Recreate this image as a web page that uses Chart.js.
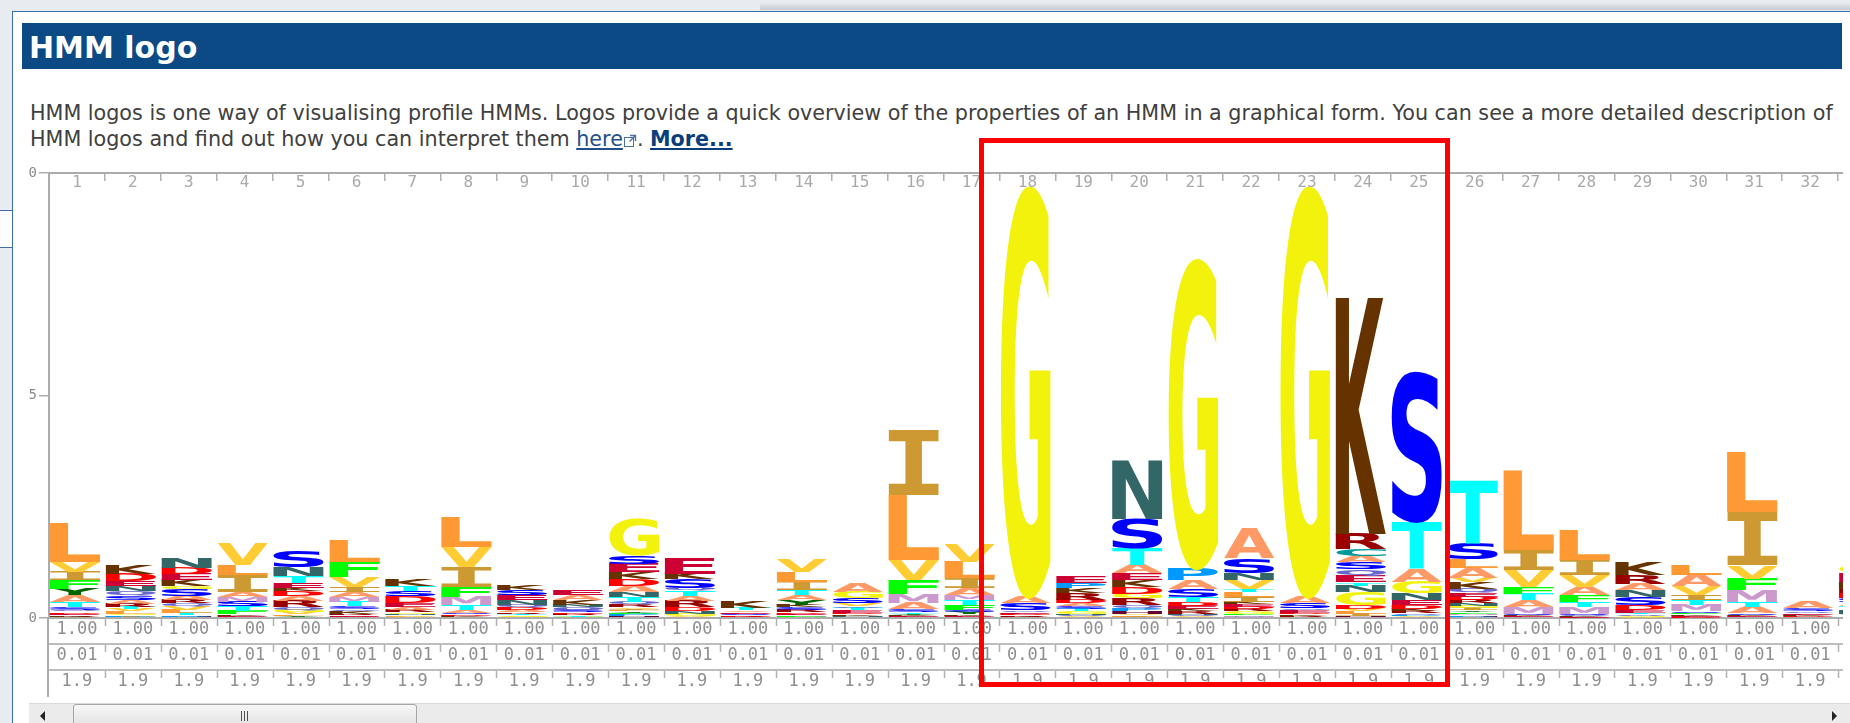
<!DOCTYPE html>
<html>
<head>
<meta charset="utf-8">
<title>HMM logo</title>
<script src="https://cdn.jsdelivr.net/npm/chart.js@4.4.1/dist/chart.umd.min.js"></script>
<style>
  html, body { margin: 0; padding: 0; }
  body {
    width: 1850px; height: 723px; overflow: hidden; position: relative;
    background: #e8ebf0; font-family: "DejaVu Sans", sans-serif;
  }
  .abs { position: absolute; }
  #topband { left: 760px; top: 3px; width: 1090px; height: 7px;
    background: linear-gradient(#e6e9ed, #c6cbd3); }
  #panel { left: 12px; top: 11px; width: 1838px; height: 712px; background: #fff;
    border-left: 1px solid #3d6fa6; border-top: 1px solid #3d6fa6; box-sizing: border-box; }
  #notch { left: 0; top: 210px; width: 12px; height: 38px; background: #fdfdfd;
    border-top: 1px solid #3d6fa6; border-bottom: 1px solid #3d6fa6; box-sizing: border-box; }
  #header { left: 22px; top: 23px; width: 1820px; height: 46px; background: #0b4a85; }
  #header h2 { position: absolute; left: 7px; top: 7px; margin: 0; color: #fff;
    font: bold 30px/35px "DejaVu Sans", sans-serif; white-space: nowrap; }
  #intro { left: 30px; top: 100px; color: #404040; font-size: 19.4px; line-height: 26px;
    white-space: nowrap; }
  #intro a { color: #23508a; text-decoration: underline; }
  #intro a.more { color: #0b3f7c; font-weight: bold; }
  #intro svg { vertical-align: -1px; margin-left: 1px; }
  #viewport { left: 28px; top: 160px; width: 1815px; height: 543px; overflow: hidden; background: #fff; }
  #scrollbar { left: 29px; top: 703px; width: 1821px; height: 20px; background: #ebebeb;
    border-top: 1px solid #d9d9d9; box-sizing: border-box; }
  #thumb { left: 73px; top: 704px; width: 344px; height: 24px; box-sizing: border-box;
    border: 1px solid #a6a6a6; border-radius: 3px;
    background: linear-gradient(#f7f7f7, #e1e1e1); }
  .grip { top: 711px; width: 1px; height: 10px; background: #505050; }
  #arrowL { left: 40px; top: 711px; width: 0; height: 0; border-top: 5px solid transparent;
    border-bottom: 5px solid transparent; border-right: 5px solid #222; }
  #arrowR { left: 1832px; top: 711px; width: 0; height: 0; border-top: 5px solid transparent;
    border-bottom: 5px solid transparent; border-left: 5px solid #222; }
  #highlight { left: 979px; top: 138px; width: 471px; height: 549px; box-sizing: border-box;
    border: 5px solid #ff0000; z-index: 10; }
</style>
</head>
<body>
<div id="topband" class="abs"></div>
<div id="panel" class="abs"></div>
<div id="notch" class="abs"></div>
<div id="header" class="abs"><h2>HMM logo</h2></div>
<div id="intro" class="abs"><span id="line1">HMM logos is one way of visualising profile HMMs. Logos provide a quick overview of the properties of an HMM in a graphical form. You can see a more detailed description of</span><br>HMM logos and find out how you can interpret them <a href="#">here</a><svg width="13" height="13" viewBox="0 0 13 13"><rect x="0.5" y="3.5" width="9" height="9" fill="none" stroke="#4a70a0"/><path d="M6 1.5h5.5V7M11.5 1.5 5.5 7.5" fill="none" stroke="#4a70a0" stroke-width="1.4"/></svg>. <a class="more" href="#">More...</a></div>
<div id="viewport" class="abs"><canvas id="logo" width="1866" height="543" style="width:1866px;height:543px"></canvas></div>
<div id="scrollbar" class="abs"></div>
<div id="thumb" class="abs"></div>
<div class="abs grip" style="left:241px"></div>
<div class="abs grip" style="left:244px"></div>
<div class="abs grip" style="left:247px"></div>
<div id="arrowL" class="abs"></div>
<div id="arrowR" class="abs"></div>
<div id="highlight" class="abs"></div>

<script>
// Model positions shown in the logo window
const positions = ['1','2','3','4','5','6','7','8','9','10','11','12','13','14','15','16','17',
  '18','19','20','21','22','23','24','25','26','27','28','29','30','31','32','33'];

// Residues at each position, top of the stack first
const residues = [
  'LVIFYATSQDEKR', 'KDENQSARTVLGPI', 'NDEKGSARQVLTPH', 'VLIAMSTFKE', 'SNTEKDARQGVLY',
  'LFVIAMTSQKRED', 'KTSDEARGNVL', 'LVIFMTASDKE', 'KSENQDARTGV', 'EAKNQSDRTG',
  'GSEKDANTQRVILYFPH', 'EKSQTARDNGVL', 'KTAESDR', 'VLITAYKSRDEFM', 'AGSVQTEDKN',
  'ILVFMASTYKED', 'VLIAMTFSYKE', 'GASQEDRK', 'EPKRDASTGNQV', 'NSTAEKDGRQPHVLI',
  'GPASTDEKRNQV', 'ASNVTLIKEDRGFMQ', 'GASQEDKR', 'KRCASQETNGDVLIH', 'STAGNEDKRQPVL',
  'TSLAVKQEDRNGIYFMPH', 'LIVFTAMSKER', 'LIVAFTMSQKEN', 'KRANSDETQGVL', 'LAVITMSFKEDR',
  'LIVFMTASKER', 'ASQEKDT', 'GEKRDSATNQV'
];

// Letter heights in bits, in the same order as the residues above
const heights = [
  [0.86,0.22,0.19,0.19,0.15,0.15,0.11,0.06,0.05,0.04,0.04,0.03,0.03],
  [0.19,0.17,0.12,0.11,0.10,0.10,0.08,0.07,0.05,0.05,0.05,0.04,0.03,0.03],
  [0.24,0.15,0.13,0.13,0.07,0.15,0.10,0.07,0.06,0.08,0.07,0.05,0.04,0.03],
  [0.49,0.22,0.37,0.11,0.11,0.11,0.11,0.07,0.04,0.04],
  [0.37,0.21,0.15,0.11,0.07,0.11,0.11,0.15,0.06,0.05,0.05,0.04,0.04],
  [0.50,0.34,0.22,0.11,0.11,0.11,0.11,0.06,0.05,0.05,0.04,0.03,0.03],
  [0.13,0.11,0.11,0.15,0.09,0.06,0.05,0.04,0.04,0.03,0.03],
  [0.67,0.45,0.45,0.22,0.19,0.11,0.06,0.04,0.03,0.03,0.02],
  [0.11,0.11,0.11,0.11,0.06,0.06,0.05,0.04,0.03,0.03,0.03],
  [0.11,0.11,0.11,0.06,0.06,0.05,0.04,0.03,0.03,0.03],
  [0.86,0.19,0.19,0.15,0.15,0.15,0.11,0.11,0.06,0.05,0.04,0.03,0.03,0.03,0.02,0.05,0.05],
  [0.34,0.13,0.20,0.06,0.11,0.11,0.15,0.08,0.06,0.05,0.03,0.02],
  [0.15,0.05,0.04,0.04,0.03,0.03,0.03],
  [0.30,0.22,0.19,0.11,0.11,0.11,0.06,0.05,0.05,0.04,0.04,0.03,0.03],
  [0.20,0.15,0.11,0.06,0.05,0.05,0.05,0.04,0.04,0.04],
  [1.46,1.46,0.45,0.32,0.19,0.15,0.05,0.04,0.03,0.03,0.02,0.02],
  [0.41,0.37,0.22,0.15,0.11,0.11,0.11,0.06,0.05,0.04,0.04],
  [9.31,0.15,0.15,0.05,0.04,0.03,0.03,0.03],
  [0.15,0.11,0.11,0.15,0.08,0.07,0.06,0.05,0.05,0.04,0.03,0.03],
  [1.31,0.67,0.37,0.19,0.15,0.15,0.15,0.11,0.15,0.08,0.06,0.05,0.04,0.03,0.03],
  [7.03,0.26,0.19,0.19,0.11,0.08,0.07,0.06,0.05,0.04,0.03,0.03],
  [0.67,0.34,0.15,0.19,0.07,0.11,0.11,0.06,0.06,0.05,0.05,0.05,0.04,0.03,0.03],
  [9.31,0.15,0.11,0.05,0.05,0.04,0.04,0.04],
  [5.31,0.34,0.15,0.15,0.15,0.15,0.15,0.07,0.15,0.29,0.08,0.06,0.05,0.05,0.05],
  [3.40,1.05,0.30,0.26,0.15,0.10,0.09,0.05,0.05,0.04,0.03,0.02,0.02],
  [1.43,0.37,0.19,0.22,0.10,0.15,0.09,0.08,0.08,0.07,0.06,0.05,0.05,0.04,0.04,0.03,0.03,0.03],
  [1.78,0.45,0.37,0.15,0.15,0.15,0.15,0.04,0.02,0.02,0.02],
  [0.67,0.34,0.26,0.19,0.15,0.11,0.15,0.03,0.02,0.02,0.02,0.01],
  [0.30,0.19,0.15,0.15,0.19,0.11,0.05,0.04,0.03,0.02,0.02,0.01],
  [0.22,0.26,0.19,0.11,0.11,0.15,0.04,0.03,0.03,0.02,0.02,0.01],
  [1.35,1.20,0.30,0.26,0.26,0.11,0.15,0.04,0.02,0.02,0.02],
  [0.15,0.07,0.05,0.03,0.03,0.02,0.02],
  [0.19,0.20,0.15,0.10,0.10,0.10,0.10,0.08,0.08,0.05,0.05]
];

// Rows under the logo: occupancy, insert probability, insert length
const occupancy = [1.00,1.00,1.00,1.00,1.00,1.00,1.00,1.00,1.00,1.00,1.00,1.00,1.00,1.00,1.00,1.00,1.00,
  1.00,1.00,1.00,1.00,1.00,1.00,1.00,1.00,1.00,1.00,1.00,1.00,1.00,1.00,1.00,1.00];
const insertProbability = [0.01,0.01,0.01,0.01,0.01,0.01,0.01,0.01,0.01,0.01,0.01,0.01,0.01,0.01,0.01,0.01,0.01,
  0.01,0.01,0.01,0.01,0.01,0.01,0.01,0.01,0.01,0.01,0.01,0.01,0.01,0.01,0.01,0.01];
const insertLength = [1.9,1.9,1.9,1.9,1.9,1.9,1.9,1.9,1.9,1.9,1.9,1.9,1.9,1.9,1.9,1.9,1.9,
  1.9,1.9,1.9,1.9,1.9,1.9,1.9,1.9,1.9,1.9,1.9,1.9,1.9,1.9,1.9,1.9];

// Amino acid colour scheme
const residueColours = {
  A: '#FF9966', C: '#009999', D: '#FF0000', E: '#CC0033', F: '#00FF00', G: '#F2F20C',
  H: '#660033', I: '#CC9933', K: '#663300', L: '#FF9933', M: '#CC99CC', N: '#336666',
  P: '#0099FF', Q: '#6666CC', R: '#990000', S: '#0000FF', T: '#00FFFF', V: '#FFCC33',
  W: '#66CC66', Y: '#006600'
};

// Fit the first intro line to its column width
(function fitIntro() {
  const line = document.getElementById('line1');
  const box = document.getElementById('intro');
  const w = line.getBoundingClientRect().width;
  const size = 19.4 * 1803 / w;
  box.style.fontSize = size.toFixed(2) + 'px';
})();

// One stacked layer per depth, layer 0 at the bottom of each column
const depth = Math.max(...residues.map(r => r.length));
const datasets = [];
for (let k = 0; k < depth; k++) {
  datasets.push({
    label: 'layer ' + k,
    data: heights.map(h => (k < h.length ? h[h.length - 1 - k] : 0)),
    backgroundColor: 'rgba(0,0,0,0)',
    borderWidth: 0
  });
}

const metricsCache = {};
function glyphFont(ch) {
  return ch === 'I' ? 'bold 100px "DejaVu Sans Mono"' : 'bold 100px "DejaVu Sans"';
}
function drawGlyph(ctx, ch, x, y, w, h) {
  ctx.save();
  ctx.font = glyphFont(ch);
  ctx.textAlign = 'left';
  ctx.textBaseline = 'alphabetic';
  let m = metricsCache[ch];
  if (!m) {
    const t = ctx.measureText(ch);
    m = metricsCache[ch] = {
      l: t.actualBoundingBoxLeft, r: t.actualBoundingBoxRight,
      a: t.actualBoundingBoxAscent, d: t.actualBoundingBoxDescent
    };
  }
  const sx = w / (m.l + m.r);
  const sy = h / (m.a + m.d);
  ctx.translate(x + m.l * sx, y + m.a * sy);
  ctx.scale(sx, sy);
  ctx.fillStyle = residueColours[ch] || '#888';
  ctx.fillText(ch, 0, 0);
  ctx.restore();
}

// Paints each stacked segment as its residue letter, stretched to the segment box
const logoLetters = {
  id: 'logoLetters',
  afterDatasetsDraw(chart) {
    const ctx = chart.ctx;
    const a = chart.chartArea;
    ctx.save();
    ctx.beginPath();
    ctx.rect(a.left, a.top, a.right - a.left, a.bottom - a.top);
    ctx.clip();
    chart.data.datasets.forEach((ds, k) => {
      const meta = chart.getDatasetMeta(k);
      meta.data.forEach((bar, col) => {
        const stack = residues[col];
        const idx = stack.length - 1 - k;
        if (idx < 0) return;
        const p = bar.getProps(['x', 'y', 'base', 'width'], true);
        const top = Math.min(p.y, p.base);
        const h = Math.abs(p.base - p.y);
        if (h < 0.4) return;
        drawGlyph(ctx, stack[idx], p.x - p.width / 2 - 2, top, p.width, h);
      });
    });
    ctx.restore();
  }
};

// Column numbers along the top, row rules and ticks under the logo
const logoFrame = {
  id: 'logoFrame',
  afterDraw(chart) {
    const ctx = chart.ctx;
    const a = chart.chartArea;
    const x = chart.scales.x;
    const colW = x.getPixelForValue(1) - x.getPixelForValue(0);
    ctx.save();
    ctx.fillStyle = '#a9a9a9';
    ctx.font = '16px "DejaVu Sans Mono"';
    ctx.textAlign = 'center';
    ctx.textBaseline = 'middle';
    positions.forEach((p, i) => ctx.fillText(p, x.getPixelForValue(i), a.top + 10));

    const rowH = 26;
    ctx.strokeStyle = '#bdbdbd';
    ctx.lineWidth = 2;
    ctx.beginPath();
    for (let r = 1; r <= 2; r++) {
      ctx.moveTo(a.left, a.bottom + r * rowH);
      ctx.lineTo(chart.width, a.bottom + r * rowH);
    }
    ctx.stroke();
    ctx.strokeStyle = '#acacac';
    ctx.beginPath();
    ctx.moveTo(a.left - 1, a.bottom);
    ctx.lineTo(a.left - 1, a.bottom + 3 * rowH + 1);
    ctx.stroke();
    ctx.lineWidth = 1.5;
    ctx.strokeStyle = '#b0b0b0';
    ctx.beginPath();
    for (let i = 1; i <= positions.length; i++) {
      const bx = Math.round(x.getPixelForValue(i - 1) + colW / 2) + 0.5;
      for (let r = 0; r < 3; r++) {
        const y0 = a.bottom + r * rowH + 1;
        ctx.moveTo(bx, y0);
        ctx.lineTo(bx, y0 + 7);
      }
    }
    ctx.stroke();
    ctx.restore();
  }
};

new Chart(document.getElementById('logo'), {
  type: 'bar',
  data: { labels: positions, datasets },
  options: {
    responsive: false,
    animation: false,
    devicePixelRatio: 1,
    events: [],
    layout: { padding: { top: 13, left: 0, right: 0, bottom: 0 } },
    datasets: { bar: { categoryPercentage: 1, barPercentage: 0.9 } },
    plugins: { legend: { display: false }, tooltip: { enabled: false } },
    scales: {
      x: {
        type: 'category', position: 'bottom', stacked: true, offset: true,
        grid: { display: true, drawOnChartArea: false, drawTicks: false, offset: true },
        border: { display: true, color: '#acacac', width: 2 },
        ticks: {
          autoSkip: false, maxRotation: 0, minRotation: 0, padding: -1,
          color: '#8f8f8f',
          font: { family: 'DejaVu Sans Mono', size: 17, lineHeight: 26 / 17 },
          callback: (v, i) => [occupancy[i].toFixed(2), insertProbability[i].toFixed(2), insertLength[i].toFixed(1)]
        },
        afterFit(s) { s.height = 85; }
      },
      xTop: {
        type: 'category', position: 'top', offset: true,
        grid: { display: true, drawOnChartArea: false, drawTicks: true, tickLength: -8,
                offset: true, color: '#b0b0b0', lineWidth: 1.5 },
        border: { display: true, color: '#acacac', width: 2 },
        ticks: { display: false },
        afterFit(s) { s.height = 0; }
      },
      y: {
        type: 'linear', position: 'left', stacked: true, min: 0, max: 10,
        grid: { display: true, drawOnChartArea: false, tickLength: 10, color: '#acacac', lineWidth: 1.5 },
        border: { display: true, color: '#acacac', width: 2 },
        ticks: { stepSize: 5, padding: 2, color: '#8a8a8a',
                 font: { family: 'DejaVu Sans Mono', size: 14 } },
        afterFit(s) { s.width = 21; }
      }
    }
  },
  plugins: [logoLetters, logoFrame]
});
</script>
</body>
</html>
